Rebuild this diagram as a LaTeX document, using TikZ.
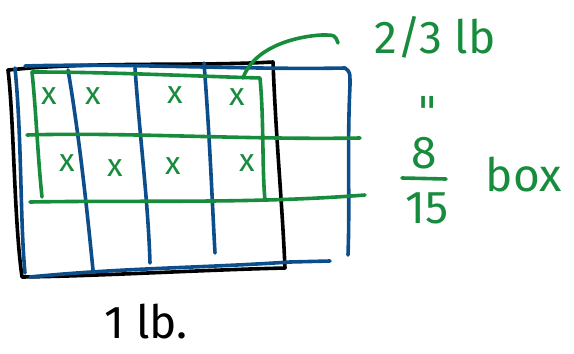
\documentclass[tikz,border=0pt]{standalone}
\usepackage{fontspec}
\setmainfont{Fira Sans}
\newfontfamily\dejavu{DejaVu Sans}
\definecolor{hgreen}{RGB}{22,140,60}
\definecolor{hblue}{RGB}{12,78,140}
\begin{document}
\begin{tikzpicture}[x=1pt,y=-1pt,line cap=round,line join=round,
  pen/.style={line width=3.6pt},
  gpen/.style={pen,draw=hgreen},
  bpen/.style={pen,draw=hblue},
  kpen/.style={pen,draw=black},
  mark x/.style={text=hgreen,font=\fontsize{32}{32}\selectfont},
  gtext/.style={text=hgreen,font=\fontsize{46}{46}\selectfont,inner sep=0pt},
  ktext/.style={text=black,font=\fontsize{46}{46}\selectfont,inner sep=0pt}]
\useasboundingbox (0,0) rectangle (574,354);
% black box
\draw[kpen] (22,277) .. controls (14,220) and (14,120) .. (8,70) -- (30,68) .. controls (120,62) and (200,66) .. (273,62)
  .. controls (276,140) and (282,200) .. (285,268) .. controls (200,270) and (100,276) .. (22,277);
% blue grid
\draw[bpen] (15,68) .. controls (22,140) and (20,220) .. (25,273);
\draw[bpen] (25,66) .. controls (120,63) and (250,70) .. (345,68) .. controls (350,72) .. (350,85) .. controls (347,150) and (350,200) .. (348,255);
\draw[bpen] (68,70) .. controls (80,140) and (88,220) .. (93,270);
\draw[bpen] (135,68) .. controls (140,140) and (148,200) .. (150,263);
\draw[bpen] (204,63) .. controls (210,140) and (212,200) .. (215,253);
\draw[bpen] (30,277) .. controls (120,268) and (200,268) .. (290,262) -- (330,261);
% green rectangle and lines
\draw[gpen] (42,197) .. controls (38,160) and (36,110) .. (32,72) .. controls (110,72) and (190,76) .. (260,78)
  .. controls (264,120) and (262,170) .. (265,200);
\draw[gpen] (27,135) .. controls (120,132) and (250,140) .. (360,138);
\draw[gpen] (30,202) .. controls (140,200) and (250,204) .. (365,195);
% arrow-like curve
\coordinate (cs) at (243,78);
\coordinate (ce) at (338,43);
\draw[gpen] (cs) .. controls (255,45) and (300,36) .. (322,35) .. controls (335,35) .. (ce);
% x marks
\foreach \p/\n in {{(49,96)}/a1,{(93,96)}/a2,{(175,95)}/a3,{(237,97)}/a4,{(67,163)}/b1,{(115,168)}/b2,{(173,166)}/b3,{(247,163)}/b4}
  \node[mark x] (\n) at \p {x};
% labels
\node[gtext] (twothirds) at (435,37) {2/3 lb};
\node[gtext,font=\fontsize{44}{44}\selectfont\dejavu] (ditto) at (428,112) {"};
\node[gtext] (eight) at (424,153) {8};
\node[gtext] (fifteen) at (427,208) {15};
\draw[gpen] (402,178) -- (446,179);
\node[gtext] (box) at (524,175) {box};
\node[ktext] (onelb) at (146,322) {1 lb.};
\end{tikzpicture}
\end{document}
